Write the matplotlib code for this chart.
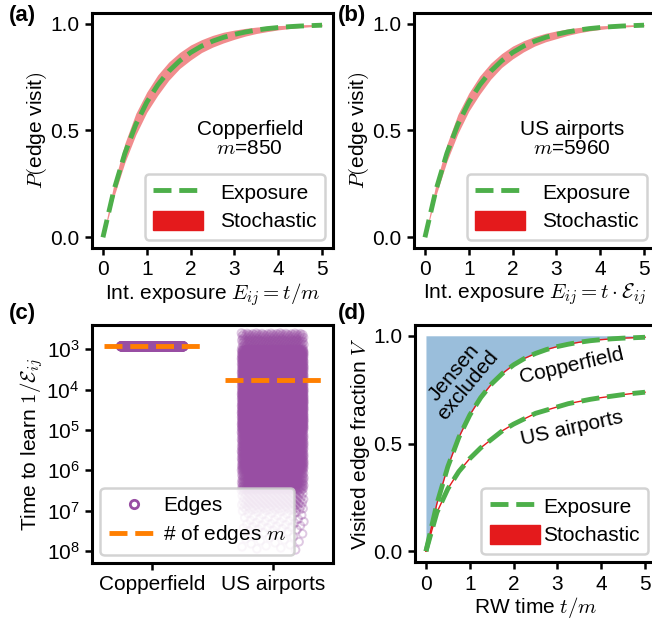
import numpy as np
import matplotlib
matplotlib.use("Agg")
import matplotlib.pyplot as plt
from matplotlib.lines import Line2D
from matplotlib.patches import Patch

plt.rcParams['font.family'] = ['Liberation Sans', 'DejaVu Sans']
plt.rcParams['mathtext.fontset'] = 'cm'
plt.rcParams['font.size'] = 15

# ---- data ----
x_exp = [0, 0.25, 0.5, 0.75, 1, 1.25, 1.5, 1.75, 2, 2.25, 2.5, 2.75,
         3, 3.25, 3.5, 3.75, 4, 4.25, 4.5, 4.75, 5]
p_exposure = [0, 0.221, 0.393, 0.528, 0.632, 0.713, 0.777, 0.826, 0.865, 0.895,
              0.918, 0.936, 0.950, 0.961, 0.970, 0.977, 0.982, 0.986, 0.989, 0.991, 0.993]
p_stoch_hi_a = [0, 0.25, 0.44, 0.58, 0.68, 0.76, 0.82, 0.865, 0.90, 0.925, 0.945,
                0.96, 0.97, 0.978, 0.984, 0.988, 0.991, 0.993, 0.995, 0.996, 0.997]
p_stoch_lo_a = [0, 0.19, 0.35, 0.48, 0.585, 0.665, 0.735, 0.79, 0.83, 0.865, 0.89,
                0.91, 0.927, 0.942, 0.954, 0.963, 0.971, 0.977, 0.982, 0.986, 0.989]
p_stoch_hi_b = [0, 0.25, 0.435, 0.575, 0.675, 0.755, 0.815, 0.86, 0.895, 0.92, 0.94,
                0.955, 0.966, 0.975, 0.982, 0.987, 0.99, 0.992, 0.994, 0.995, 0.996]
p_stoch_lo_b = [0, 0.195, 0.355, 0.485, 0.59, 0.67, 0.74, 0.795, 0.835, 0.868, 0.895,
                0.915, 0.93, 0.945, 0.957, 0.966, 0.973, 0.979, 0.984, 0.987, 0.99]

v_copperfield = p_exposure
v_airports = [0, 0.18, 0.29, 0.37, 0.43, 0.48, 0.52, 0.56, 0.59, 0.615, 0.64,
              0.655, 0.67, 0.685, 0.695, 0.705, 0.713, 0.72, 0.727, 0.733, 0.738]

networks = ['Copperfield', 'US airports']
n_edges = [850, 5960]
# US airports: log10(1/E_ij) bins and number of edges in each
air_bin_lo = [2.6, 3.0, 4.0, 5.0, 6.0, 6.5, 7.0, 7.5]
air_bin_hi = [3.0, 4.0, 5.0, 6.0, 6.5, 7.0, 7.5, 8.0]
air_bin_n = [200, 1750, 2150, 1300, 380, 120, 40, 20]

green = '#4daf4a'
red = '#e41a1c'
purple = '#984ea3'
orange = '#ff7f00'
blue = '#377eb8'

fig = plt.figure(figsize=(6.52, 6.23), dpi=100)
W, H = 652, 623
def box(l, t, r, b):
    return [l / W, 1 - b / H, (r - l) / W, (b - t) / H]

ax_a = fig.add_axes(box(92, 13, 333, 248))
ax_b = fig.add_axes(box(414, 13, 655, 248))
ax_c = fig.add_axes(box(92, 325, 333, 563))
ax_d = fig.add_axes(box(415, 325, 656, 562))

def style(ax):
    for s in ax.spines.values():
        s.set_linewidth(2.2)
    ax.tick_params(width=1.8, length=5, direction='out', labelsize=15, pad=4)

def leg_frame(leg):
    fr = leg.get_frame()
    fr.set_edgecolor('#cccccc')
    fr.set_linewidth(1.8)
    fr.set_alpha(0.85)

handles_ab = [Line2D([], [], color=green, lw=3.5, ls='--'),
              Patch(color=red)]

for ax, hi, lo, name, m, xl in [
        (ax_a, p_stoch_hi_a, p_stoch_lo_a, 'Copperfield', 850, r'Int. exposure $E_{ij}=t/m$'),
        (ax_b, p_stoch_hi_b, p_stoch_lo_b, 'US airports', 5960, r'Int. exposure $E_{ij}=t\cdot\mathcal{E}_{ij}$')]:
    ax.fill_between(x_exp, lo, hi, color=red, alpha=0.5, lw=0)
    ax.plot(x_exp, p_exposure, color=green, lw=3.5, ls='--')
    ax.set_xlim(-0.25, 5.25)
    ax.set_ylim(-0.05, 1.05)
    ax.set_xticks([0, 1, 2, 3, 4, 5])
    ax.set_yticks([0, 0.5, 1.0])
    ax.set_xlabel(xl, labelpad=1)
    ax.set_ylabel('$P($edge visit$)$', labelpad=1)
    ax.text(3.35, 0.46, name + '\n' + r'$m$=' + str(m), ha='center', va='center',
            linespacing=1.0)
    leg = ax.legend(handles_ab, ['Exposure', 'Stochastic'], loc='lower right',
                    handlelength=2.4, handleheight=1.0, handletextpad=0.8,
                    borderaxespad=0.4, labelspacing=0.4)
    leg_frame(leg)
    style(ax)

# (c)
halfw = 0.26
gold = 0.6180339887
cx = np.array([(i * gold) % 1 for i in range(n_edges[0])])
ax_c.scatter(0 + (cx * 2 - 1) * halfw, np.full(n_edges[0], n_edges[0]),
             s=36, facecolors='none', edgecolors=purple, alpha=0.3, lw=1.4, zorder=2)
air_logs = []
for lo, hi, n in zip(air_bin_lo, air_bin_hi, air_bin_n):
    air_logs += list(np.linspace(lo, hi, n, endpoint=False))
air_vals = 10 ** np.array(air_logs)
ax_x = np.array([(i * gold) % 1 for i in range(len(air_vals))])
ax_c.scatter(1 + (ax_x * 2 - 1) * halfw, air_vals,
             s=30, facecolors='none', edgecolors=purple, alpha=0.3, lw=1.4, zorder=2)
for i, m in enumerate(n_edges):
    ax_c.plot([i - 0.4, i + 0.4], [m, m], color=orange, lw=3.5, ls='--', zorder=3)
ax_c.set_yscale('log')
ax_c.set_ylim(10 ** 8.3, 10 ** 2.4)
ax_c.set_yticks([1e3, 1e4, 1e5, 1e6, 1e7, 1e8])
ax_c.yaxis.set_minor_locator(matplotlib.ticker.NullLocator())
ax_c.set_xlim(-0.5, 1.5)
ax_c.set_xticks([0, 1])
ax_c.set_xticklabels(networks)
ax_c.set_ylabel(r'Time to learn $1/\mathcal{E}_{ij}$', labelpad=1)
handles_c = [Line2D([], [], color=purple, marker='o', ls='none', mfc='none', mew=2, ms=6),
             Line2D([], [], color=orange, lw=3.5, ls='--')]
leg = ax_c.legend(handles_c, ['Edges', '# of edges $m$'], loc='lower left',
                  handlelength=2.4, handletextpad=0.2, borderaxespad=0.4, labelspacing=0.4)
leg.set_zorder(5)
leg_frame(leg)
style(ax_c)

# (d)
ax_d.fill_between(x_exp, v_copperfield, 1.0, color=blue, alpha=0.5, lw=0)
for v in [v_copperfield, v_airports]:
    ax_d.plot(x_exp, v, color=red, lw=1)
    ax_d.plot(x_exp, v, color=green, lw=3.5, ls='--')
ax_d.text(0.8, 0.8, 'Jensen\nexcluded', rotation=50, ha='center', va='center',
          rotation_mode='anchor', linespacing=1.0)
ax_d.text(3.32, 0.86, 'Copperfield', rotation=13, ha='center', va='center',
          rotation_mode='anchor')
ax_d.text(3.32, 0.57, 'US airports', rotation=12.5, ha='center', va='center',
          rotation_mode='anchor')
ax_d.set_xlim(-0.25, 5.25)
ax_d.set_ylim(-0.05, 1.05)
ax_d.set_xticks([0, 1, 2, 3, 4, 5])
ax_d.set_yticks([0, 0.5, 1.0])
ax_d.set_xlabel('RW time $t/m$', labelpad=1)
ax_d.set_ylabel('Visited edge fraction $V$', labelpad=1)
leg = ax_d.legend(handles_ab, ['Exposure', 'Stochastic'], loc='lower right',
                  handlelength=2.4, handleheight=1.0, handletextpad=0.15,
                  borderaxespad=0.4, labelspacing=0.4)
leg_frame(leg)
style(ax_d)

for lab, px, py in [('(a)', 9, 16), ('(b)', 338, 16), ('(c)', 9, 314), ('(d)', 338, 314)]:
    fig.text(px / W, 1 - py / H, lab, fontsize=16, fontweight='bold', va='center')

fig.savefig('out.png', dpi=100)
